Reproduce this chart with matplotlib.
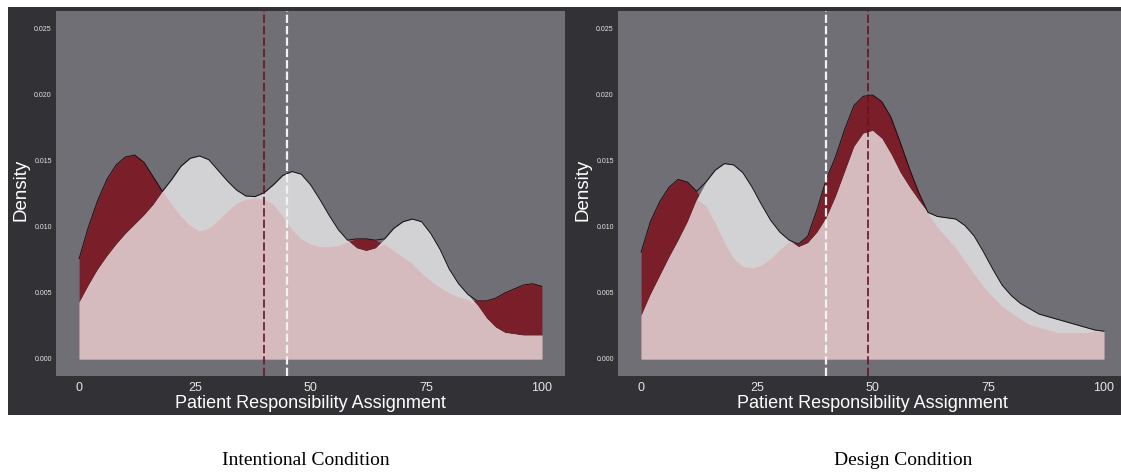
import numpy as np
import matplotlib
matplotlib.use("Agg")
import matplotlib.pyplot as plt
from matplotlib.patches import Rectangle

# ---------------- data ----------------
grid = list(range(0, 101, 2))

intent_red = [0.0076, 0.0100, 0.0120, 0.0136, 0.0147, 0.0153, 0.01545, 0.0149, 0.0138, 0.0127,
              0.0117, 0.0108, 0.0101, 0.0097, 0.0099, 0.0105, 0.0112, 0.0118, 0.0121, 0.0122,
              0.0121, 0.0117, 0.0108, 0.0098, 0.0091, 0.0087, 0.0085, 0.0085, 0.0086, 0.0089,
              0.0091, 0.0091, 0.0090, 0.0087, 0.0082, 0.0077, 0.0072, 0.0065, 0.0059, 0.0054,
              0.0050, 0.0047, 0.0045, 0.0044, 0.0044, 0.0046, 0.0050, 0.0053, 0.0056, 0.0057,
              0.0055]
intent_grey = [0.0043, 0.0056, 0.0068, 0.0078, 0.0087, 0.0095, 0.0102, 0.0109, 0.0117, 0.0127,
               0.0136, 0.0146, 0.0152, 0.01538, 0.0151, 0.0143, 0.0135, 0.0128, 0.01235, 0.0123,
               0.0126, 0.0132, 0.0139, 0.0142, 0.0140, 0.0132, 0.0121, 0.0109, 0.0098, 0.0090,
               0.0084, 0.0082, 0.0084, 0.0091, 0.0099, 0.0104, 0.0106, 0.0104, 0.0095, 0.0083,
               0.0068, 0.0057, 0.0049, 0.0041, 0.0031, 0.0024, 0.0020, 0.0019, 0.0018, 0.0018,
               0.0018]

design_red = [0.0081, 0.0104, 0.0119, 0.0130, 0.0136, 0.0134, 0.0127, 0.0116, 0.0103, 0.0088,
              0.0076, 0.0070, 0.0069, 0.0071, 0.0076, 0.0083, 0.0089, 0.0087, 0.0093, 0.0113,
              0.0136, 0.0153, 0.0174, 0.0192, 0.0199, 0.0200, 0.0195, 0.0183, 0.0164, 0.0144,
              0.0126, 0.0110, 0.0100, 0.0092, 0.0084, 0.0074, 0.0064, 0.0055, 0.0047, 0.0040,
              0.0035, 0.0030, 0.0026, 0.0024, 0.0022, 0.0020, 0.0020, 0.0020, 0.0020, 0.0021,
              0.0021]
design_grey = [0.0033, 0.0049, 0.0063, 0.0077, 0.0090, 0.0104, 0.0121, 0.0134, 0.0143, 0.0148,
               0.0147, 0.0141, 0.0130, 0.0117, 0.0105, 0.0096, 0.0090, 0.0085, 0.0088, 0.0096,
               0.0107, 0.0123, 0.0142, 0.0161, 0.0171, 0.0173, 0.0167, 0.0155, 0.0141, 0.0130,
               0.0120, 0.0111, 0.0108, 0.0107, 0.0106, 0.0101, 0.0093, 0.0081, 0.0068, 0.0056,
               0.0048, 0.0042, 0.0038, 0.0034, 0.0032, 0.0030, 0.0028, 0.0026, 0.0024, 0.0022,
               0.0021]

intent_means = {"red": 40.0, "white": 45.0}
design_means = {"red": 49.1, "white": 40.0}

x_ticks = [0, 25, 50, 75, 100]
y_ticks = [0.000, 0.005, 0.010, 0.015, 0.020, 0.025]
captions = ["Intentional Condition", "Design Condition"]
x_label = "Patient Responsibility Assignment"
y_label = "Density"

# ---------------- style ----------------
W, H = 1121, 472
DARK = "#323135"
PANEL = "#706f76"
RED = "#7a1f2a"
GREY = "#d2d2d5"
PINK = "#d5bbbe"
REDLINE = "#6a1222"
WHITE = "#f2f2f2"
TXT = "#e6e6e6"

plt.rcParams["font.family"] = ["Liberation Sans", "DejaVu Sans"]
plt.rcParams["lines.scale_dashes"] = False

fig = plt.figure(figsize=(W / 100, H / 100), dpi=100)
fig.patch.set_facecolor("white")


def px_rect(x0, y0, x1, y1):
    return [x0 / W, 1 - y1 / H, (x1 - x0) / W, (y1 - y0) / H]


for (x0, x1) in [(8, 565), (565, 1121)]:
    r = px_rect(x0, 7, x1, 415)
    rect = Rectangle((r[0], r[1]), r[2], r[3], transform=fig.transFigure,
                     facecolor=DARK, edgecolor="none", zorder=-10)
    fig.add_artist(rect)

panels = [
    (56, intent_red, intent_grey, intent_means, captions[0], 306),
    (618, design_red, design_grey, design_means, captions[1], 903),
]

x = np.array(grid, dtype=float)
for left, red, grey, means, cap, capx in panels:
    ax = fig.add_axes(px_rect(left, 11, left + 509, 376))
    ax.set_zorder(1)
    ax.set_facecolor(PANEL)
    r = np.array(red)
    g = np.array(grey)
    ax.fill_between(x, 0, r, color=RED, lw=0, zorder=1)
    ax.fill_between(x, 0, g, color=GREY, lw=0, zorder=2)
    ax.fill_between(x, 0, np.minimum(r, g), color=PINK, lw=0, zorder=3)
    ax.plot(x, np.maximum(r, g), color="#111111", lw=0.7, zorder=4)
    ax.axvline(means["red"], color=REDLINE, lw=1.2, dashes=(6, 2.2), zorder=5)
    ax.axvline(means["white"], color=WHITE, lw=1.6, dashes=(6, 2.2), zorder=5)

    ax.set_xlim(-5, 105)
    ax.set_ylim(-0.00129, 0.02636)
    ax.set_xticks(x_ticks)
    ax.set_xticklabels([str(t) for t in x_ticks])
    ax.set_yticks(y_ticks)
    ax.set_yticklabels([f"{t:.3f}" for t in y_ticks])
    ax.tick_params(axis="x", length=0, pad=4, labelsize=9, labelcolor=TXT)
    ax.tick_params(axis="y", length=0, pad=3, labelsize=5, labelcolor=TXT)
    for s in ax.spines.values():
        s.set_visible(False)
    ax.set_xlabel(x_label, fontsize=13, color="white")
    ax.xaxis.set_label_coords(0.5, -0.052)
    ax.set_ylabel(y_label, fontsize=13.5, color="white")
    ax.yaxis.set_label_coords(-0.052, 0.51)

    fig.text(capx / W, 1 - 465 / H, cap, ha="center", va="baseline", fontsize=14,
             family=["Liberation Serif", "DejaVu Serif"], color="black")

fig.savefig("out.png", dpi=100, facecolor="white")
